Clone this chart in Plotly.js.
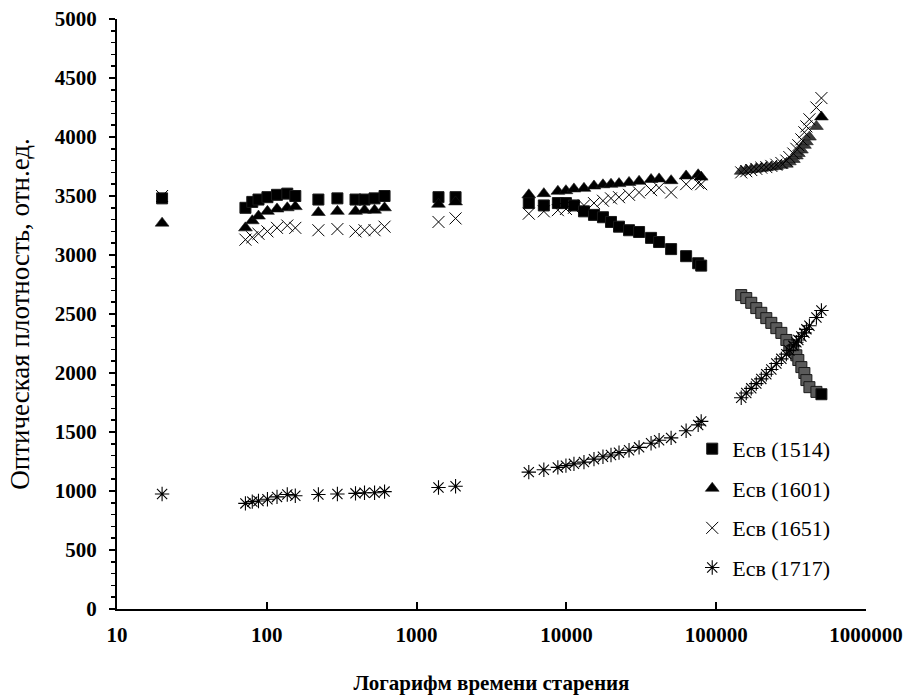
<!DOCTYPE html>
<html>
<head>
<meta charset="utf-8">
<script src="https://cdn.plot.ly/plotly-3.0.1.min.js"></script>
<style>html,body{margin:0;padding:0;background:#fff;}#chart{width:906px;height:695px;}</style>
</head>
<body>
<div id="chart"></div>
<script>
const times = [20, 72, 80, 88, 101, 117, 137, 155, 221, 296, 391, 449, 524, 611, 1400, 1820,
  5610, 7070, 8770, 9930, 11230, 13100, 15280, 17540, 19850, 22450, 26190, 30560, 36740, 41570, 50000, 62970, 75800, 79400,
  146900, 158700, 171400, 185200, 200000, 216000, 233300, 252000, 272200, 294000, 307700, 327300, 342800, 353400, 370300, 387900, 400000, 419000, 466700, 504000];

const e1514 = [3480, 3400, 3450, 3470, 3490, 3510, 3520, 3500, 3470, 3480, 3470, 3470, 3480, 3500, 3490, 3490,
  3440, 3420, 3440, 3440, 3420, 3370, 3340, 3320, 3280, 3240, 3210, 3195, 3145, 3110, 3050, 2990, 2930, 2910,
  2660, 2635, 2595, 2550, 2510, 2465, 2425, 2380, 2340, 2280, 2235, 2195, 2150, 2110, 2050, 2000, 1940, 1880, 1840, 1820];

const e1601 = [3270, 3230, 3290, 3330, 3370, 3390, 3400, 3410, 3360, 3370, 3370, 3380, 3380, 3400, 3430, 3450,
  3510, 3520, 3540, 3545, 3560, 3565, 3585, 3595, 3600, 3605, 3615, 3625, 3640, 3645, 3630, 3670, 3680, 3660,
  3710, 3720, 3725, 3730, 3735, 3740, 3745, 3750, 3760, 3770, 3790, 3810, 3840, 3860, 3890, 3930, 3960, 4000, 4090, 4170];

const e1651 = [3500, 3130, 3150, 3180, 3200, 3230, 3250, 3230, 3210, 3220, 3200, 3210, 3210, 3240, 3280, 3310,
  3350, 3370, 3380, 3390, 3400, 3420, 3440, 3460, 3480, 3490, 3510, 3530, 3550, 3570, 3530, 3600, 3610, 3600,
  3700, 3710, 3720, 3730, 3740, 3745, 3755, 3765, 3780, 3800, 3830, 3860, 3900, 3930, 3980, 4040, 4090, 4150, 4250, 4330];

const e1717 = [975, 895, 910, 915, 930, 950, 970, 960, 970, 975, 980, 985, 985, 995, 1030, 1040,
  1160, 1180, 1200, 1215, 1230, 1245, 1270, 1290, 1305, 1325, 1345, 1370, 1405, 1430, 1450, 1510, 1560, 1590,
  1790, 1830, 1870, 1910, 1950, 1990, 2030, 2080, 2120, 2160, 2190, 2230, 2260, 2280, 2310, 2340, 2370, 2400, 2470, 2530];

const seriesNames = ['Есв (1514)', 'Есв (1601)', 'Есв (1651)', 'Есв (1717)'];
const xTickVals = [10, 100, 1000, 10000, 100000, 1000000];
const xTickText = ['10', '100', '1000', '10000', '100000', '1000000'];
const xTitle = 'Логарифм времени старения';
const yTitle = 'Оптическая плотность, отн.ед.';

const serif = 'Liberation Serif, Times New Roman, serif';
const seriesY = [e1514, e1601, e1651, e1717];

// late, densely packed points render greyish in the original
const shade = (solid, grey) => times.map((t, k) => (t > 140000 && k < times.length - 1) ? grey : solid);

const markers = [
  {symbol: 'square', size: 11, color: shade('#000', '#5a5a5a'), line: {width: 1, color: '#1a1a1a'}},
  {symbol: 'triangle-up', size: 12, color: shade('#000', '#3a3a3a'), line: {width: 0.6, color: '#1a1a1a'}},
  {symbol: 'x-thin-open', size: 12, color: '#000', line: {width: 1, color: '#111'}},
  {symbol: 'asterisk-open', size: 12, color: '#000', line: {width: 1.1, color: '#111'}}
];

const traces = seriesY.map((ys, i) => ({
  type: 'scatter', mode: 'markers', x: times, y: ys, name: seriesNames[i],
  legendgroup: 'g' + i, marker: markers[i], cliponaxis: false
}));

const layout = {
  width: 906, height: 695,
  margin: {l: 117, r: 40, t: 19, b: 86},
  paper_bgcolor: '#fff', plot_bgcolor: '#fff',
  showlegend: true,
  legend: {x: 0.768, y: 0.307, xanchor: 'left', yanchor: 'top', bgcolor: 'rgba(0,0,0,0)',
    font: {family: serif, size: 22, color: '#000'}, tracegroupgap: 8, itemwidth: 30},
  xaxis: {
    type: 'log', range: [1, 6], tickmode: 'array', tickvals: xTickVals, ticktext: xTickText,
    ticks: 'inside', ticklen: 7, tickwidth: 2, tickcolor: '#000',
    showline: true, linewidth: 2, linecolor: '#000', showgrid: false, zeroline: false,
    tickfont: {family: serif, size: 21, color: '#000', weight: 'bold'},
    ticklabelstandoff: 6,
    title: {text: xTitle, font: {family: serif, size: 21, color: '#000', weight: 'bold'}, standoff: 30}
  },
  yaxis: {
    range: [0, 5000], dtick: 500, tick0: 0,
    ticks: 'outside', ticklen: 6, tickwidth: 2, tickcolor: '#000',
    minor: {dtick: 100, ticks: 'outside', ticklen: 4, tickwidth: 1.5, tickcolor: '#000', showgrid: false},
    showline: true, linewidth: 2, linecolor: '#000', showgrid: false, zeroline: false,
    tickfont: {family: serif, size: 21, color: '#000', weight: 'bold'},
    ticklabelstandoff: 8,
    title: {text: yTitle, font: {family: serif, size: 27, color: '#000'}, standoff: 17}
  }
};

Plotly.newPlot('chart', traces, layout, {displayModeBar: false, staticPlot: true});
</script>
</body>
</html>
